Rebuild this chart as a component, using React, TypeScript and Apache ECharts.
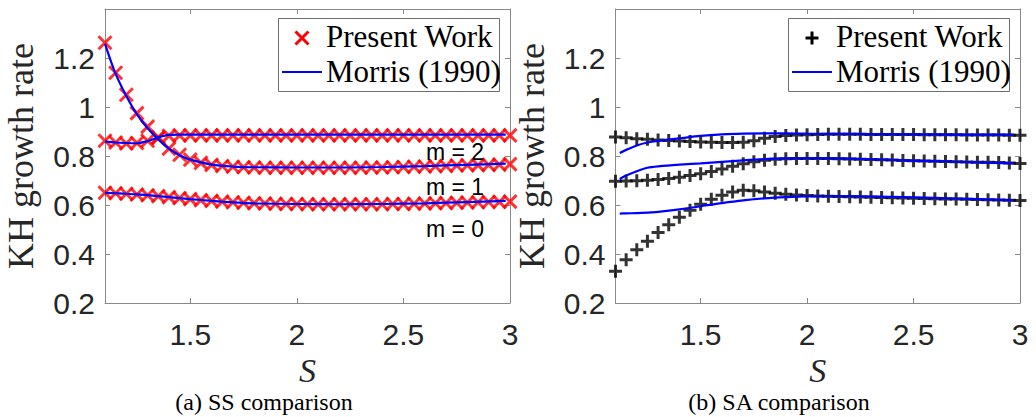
import React, { useEffect, useRef } from "react";
import * as echarts from "echarts";

// ---------- data ----------
const X_TICKS = [1.5, 2, 2.5, 3];
const Y_TICKS = [0.2, 0.4, 0.6, 0.8, 1, 1.2];

const S_PRESENT = [1.1, 1.15, 1.2, 1.25, 1.3, 1.35, 1.4, 1.45, 1.5, 1.55, 1.6, 1.65, 1.7, 1.75, 1.8, 1.85, 1.9, 1.95, 2.0, 2.05, 2.1, 2.15, 2.2, 2.25, 2.3, 2.35, 2.4, 2.45, 2.5, 2.55, 2.6, 2.65, 2.7, 2.75, 2.8, 2.85, 2.9, 2.95, 3.0];

// (a) SS comparison - present work (m = 2, 1, 0)
const ssPresentM2 = [0.862, 0.855, 0.851, 0.853, 0.862, 0.875, 0.882, 0.884, 0.884, 0.884,
  0.884, 0.884, 0.884, 0.884, 0.884, 0.884, 0.884, 0.884, 0.884, 0.884,
  0.884, 0.884, 0.884, 0.884, 0.884, 0.884, 0.884, 0.884, 0.884, 0.884,
  0.884, 0.884, 0.884, 0.884, 0.884, 0.884, 0.884, 0.884, 0.884];
const ssPresentM1 = [1.262, 1.14, 1.05, 0.975, 0.92, 0.875, 0.83, 0.805, 0.785, 0.772,
  0.764, 0.759, 0.756, 0.754, 0.753, 0.752, 0.752, 0.752, 0.752, 0.752,
  0.752, 0.752, 0.752, 0.752, 0.752, 0.753, 0.753, 0.754, 0.755, 0.756,
  0.757, 0.758, 0.759, 0.761, 0.762, 0.763, 0.764, 0.765, 0.767];
const ssPresentM0 = [0.65, 0.648, 0.646, 0.643, 0.64, 0.636, 0.632, 0.628, 0.624, 0.62,
  0.617, 0.614, 0.611, 0.609, 0.607, 0.606, 0.605, 0.604, 0.604, 0.603,
  0.603, 0.603, 0.603, 0.603, 0.603, 0.603, 0.603, 0.604, 0.604, 0.605,
  0.606, 0.607, 0.608, 0.609, 0.61, 0.611, 0.612, 0.613, 0.614];

// (a) SS comparison - Morris (1990)
const S_MORRIS_SS = [1.1, 1.15, 1.2, 1.25, 1.3, 1.35, 1.4, 1.45, 1.5, 1.6, 1.7, 1.8, 2.0, 2.2, 2.4, 2.6, 2.8, 2.98];
const ssMorrisM2 = [0.86, 0.855, 0.853, 0.852, 0.861, 0.876, 0.886, 0.887, 0.887, 0.887, 0.887, 0.887, 0.887, 0.887, 0.887, 0.887, 0.887, 0.887];
const ssMorrisM1 = [1.258, 1.135, 1.045, 0.97, 0.913, 0.868, 0.83, 0.803, 0.785, 0.765, 0.757, 0.754, 0.753, 0.753, 0.755, 0.759, 0.764, 0.769];
const ssMorrisM0 = [0.65, 0.648, 0.646, 0.643, 0.64, 0.636, 0.632, 0.628, 0.624, 0.617, 0.611, 0.607, 0.604, 0.603, 0.604, 0.607, 0.612, 0.617];

// (b) SA comparison - present work
const saPresentTop = [0.878, 0.875, 0.87, 0.868, 0.865, 0.863, 0.861, 0.859, 0.857, 0.856,
  0.855, 0.855, 0.856, 0.862, 0.872, 0.88, 0.884, 0.886, 0.887, 0.888,
  0.889, 0.889, 0.889, 0.889, 0.888, 0.888, 0.888, 0.888, 0.888, 0.887,
  0.887, 0.887, 0.887, 0.886, 0.886, 0.886, 0.886, 0.885, 0.885];
const saPresentMid = [0.697, 0.698, 0.699, 0.701, 0.704, 0.708, 0.713, 0.72, 0.728, 0.737,
  0.747, 0.758, 0.768, 0.777, 0.783, 0.787, 0.789, 0.79, 0.79, 0.79,
  0.79, 0.789, 0.788, 0.787, 0.786, 0.785, 0.784, 0.782, 0.781, 0.78,
  0.779, 0.778, 0.777, 0.776, 0.775, 0.774, 0.773, 0.771, 0.769];
const saPresentBot = [0.33, 0.377, 0.417, 0.452, 0.488, 0.519, 0.55, 0.579, 0.603, 0.623,
  0.64, 0.653, 0.66, 0.658, 0.653, 0.648, 0.644, 0.641, 0.639, 0.637,
  0.636, 0.635, 0.634, 0.633, 0.632, 0.631, 0.63, 0.629, 0.628, 0.627,
  0.626, 0.625, 0.624, 0.623, 0.622, 0.621, 0.62, 0.619, 0.618];

// (b) SA comparison - Morris (1990)
const S_MORRIS_SA = [1.12, 1.15, 1.2, 1.25, 1.3, 1.4, 1.5, 1.6, 1.7, 1.8, 1.9, 2.0, 2.2, 2.4, 2.6, 2.8, 2.97];
const saMorrisTop = [0.812, 0.825, 0.843, 0.855, 0.862, 0.872, 0.882, 0.888, 0.891, 0.892, 0.892, 0.891, 0.89, 0.889, 0.888, 0.887, 0.887];
const saMorrisMid = [0.706, 0.72, 0.738, 0.752, 0.758, 0.765, 0.77, 0.776, 0.782, 0.787, 0.79, 0.791, 0.789, 0.784, 0.779, 0.774, 0.77];
const saMorrisBot = [0.565, 0.566, 0.567, 0.569, 0.572, 0.582, 0.595, 0.608, 0.619, 0.627, 0.632, 0.635, 0.636, 0.633, 0.629, 0.624, 0.619];

const MODE_LABELS = ["m = 2", "m = 1", "m = 0"];
const LEGEND_LABELS = ["Present Work", "Morris (1990)"];
const CAPTIONS = ["(a) SS comparison", "(b) SA comparison"];
const Y_NAME = "KH growth rate";
const X_NAME = "S";

// ---------- styles ----------
const AXIS_COLOR = "#8a8a8a";
const TEXT_COLOR = "#262626";
const SANS = "Liberation Sans, Arial, sans-serif";
const SERIF = "Liberation Serif, Times New Roman, serif";
const CROSS = "path://M0,0L10,10M10,0L0,10";
const PLUS = "path://M5,0L5,10M0,5L10,5";

const zip = (xs: number[], ys: number[]) => xs.map((x, i) => [x, ys[i]]);

function xAxisDef(grid: number, pos: "bottom" | "top") {
  const bottom = pos === "bottom";
  return {
    type: "value",
    gridIndex: grid,
    position: pos,
    min: 1.1,
    max: 3,
    axisLine: { show: true, onZero: false, lineStyle: { color: AXIS_COLOR, width: 1 } },
    axisTick: { show: true, inside: true, length: 5, customValues: X_TICKS, lineStyle: { color: AXIS_COLOR } },
    axisLabel: {
      show: bottom,
      customValues: X_TICKS,
      fontSize: 30,
      fontFamily: SANS,
      color: TEXT_COLOR,
      margin: 16,
    },
    splitLine: { show: false },
    name: bottom ? X_NAME : "",
    nameLocation: "middle",
    nameGap: 48,
    nameTextStyle: { fontFamily: SERIF, fontStyle: "italic", fontSize: 34, color: TEXT_COLOR },
  };
}

function yAxisDef(grid: number, pos: "left" | "right") {
  const left = pos === "left";
  return {
    type: "value",
    gridIndex: grid,
    position: pos,
    min: 0.2,
    max: 1.4,
    axisLine: { show: true, onZero: false, lineStyle: { color: AXIS_COLOR, width: 1 } },
    axisTick: { show: true, inside: true, length: 5, customValues: Y_TICKS, lineStyle: { color: AXIS_COLOR } },
    axisLabel: {
      show: left,
      customValues: Y_TICKS,
      fontSize: 30,
      fontFamily: SANS,
      color: TEXT_COLOR,
      margin: 10,
    },
    splitLine: { show: false },
    name: left ? Y_NAME : "",
    nameLocation: "middle",
    nameRotate: 90,
    nameGap: 66,
    nameTextStyle: { fontFamily: SERIF, fontSize: 36, color: TEXT_COLOR },
  };
}

function scatterSeries(name: string, grid: number, xs: number[], ys: number[], symbol: string, color: string) {
  return {
    name,
    type: "scatter",
    xAxisIndex: grid * 2,
    yAxisIndex: grid * 2,
    data: zip(xs, ys),
    symbol,
    symbolSize: 13,
    itemStyle: { color: "transparent", borderColor: color, borderWidth: 3 },
    z: 2,
  };
}

function lineSeries(name: string, grid: number, xs: number[], ys: number[]) {
  return {
    name,
    type: "line",
    xAxisIndex: grid * 2,
    yAxisIndex: grid * 2,
    data: zip(xs, ys),
    showSymbol: false,
    smooth: 0.3,
    lineStyle: { color: "#0000ff", width: 2.2 },
    z: 3,
  };
}

function legendGraphic(left: number, kind: "cross" | "plus", color: string) {
  const top = 18.5;
  const mx = left + 24;
  const my = 38;
  const h = 6.5;
  const markLines =
    kind === "cross"
      ? [
          [mx - h, my - h, mx + h, my + h],
          [mx + h, my - h, mx - h, my + h],
        ]
      : [
          [mx, my - h, mx, my + h],
          [mx - h, my, mx + h, my],
        ];
  return [
    {
      type: "rect",
      shape: { x: left + 0.5, y: top, width: 221, height: 73 },
      style: { fill: "#ffffff", stroke: "#6e6e6e", lineWidth: 1 },
      z: 100,
    },
    ...markLines.map((l) => ({
      type: "line",
      shape: { x1: l[0], y1: l[1], x2: l[2], y2: l[3] },
      style: { stroke: color, lineWidth: 3 },
      z: 101,
    })),
    {
      type: "text",
      x: left + 48,
      y: 36,
      style: { text: LEGEND_LABELS[0], fontFamily: SERIF, fontSize: 31, fill: "#000", verticalAlign: "middle", align: "left" },
      z: 101,
    },
    {
      type: "line",
      shape: { x1: left + 4, y1: 72, x2: left + 44, y2: 72 },
      style: { stroke: "#0000ff", lineWidth: 2.2 },
      z: 101,
    },
    {
      type: "text",
      x: left + 48,
      y: 71,
      style: { text: LEGEND_LABELS[1], fontFamily: SERIF, fontSize: 31, fill: "#000", verticalAlign: "middle", align: "left" },
      z: 101,
    },
  ];
}

export default function App() {
  const ref = useRef<HTMLDivElement>(null);

  useEffect(() => {
    if (!ref.current) return;
    const chart = echarts.init(ref.current, undefined, { renderer: "svg" });

    const modeY = [152, 187, 229];

    chart.setOption({
      animation: false,
      backgroundColor: "#ffffff",
      textStyle: { fontFamily: SANS },
      grid: [
        { left: 105, top: 9, width: 405, height: 294, containLabel: false },
        { left: 615.5, top: 9, width: 404.5, height: 294, containLabel: false },
      ],
      xAxis: [xAxisDef(0, "bottom"), xAxisDef(0, "top"), xAxisDef(1, "bottom"), xAxisDef(1, "top")],
      yAxis: [yAxisDef(0, "left"), yAxisDef(0, "right"), yAxisDef(1, "left"), yAxisDef(1, "right")],
      series: [
        scatterSeries("Present Work", 0, S_PRESENT, ssPresentM2, CROSS, "#ff0000"),
        scatterSeries("Present Work", 0, S_PRESENT, ssPresentM1, CROSS, "#ff0000"),
        scatterSeries("Present Work", 0, S_PRESENT, ssPresentM0, CROSS, "#ff0000"),
        lineSeries("Morris (1990)", 0, S_MORRIS_SS, ssMorrisM2),
        lineSeries("Morris (1990)", 0, S_MORRIS_SS, ssMorrisM1),
        lineSeries("Morris (1990)", 0, S_MORRIS_SS, ssMorrisM0),
        scatterSeries("Present Work", 1, S_PRESENT, saPresentTop, PLUS, "#000000"),
        scatterSeries("Present Work", 1, S_PRESENT, saPresentMid, PLUS, "#000000"),
        scatterSeries("Present Work", 1, S_PRESENT, saPresentBot, PLUS, "#000000"),
        lineSeries("Morris (1990)", 1, S_MORRIS_SA, saMorrisTop),
        lineSeries("Morris (1990)", 1, S_MORRIS_SA, saMorrisMid),
        lineSeries("Morris (1990)", 1, S_MORRIS_SA, saMorrisBot),
      ],
      graphic: [
        ...legendGraphic(278, "cross", "#ff0000"),
        ...legendGraphic(788, "plus", "#000000"),
        ...MODE_LABELS.map((t, i) => ({
          type: "text",
          x: 426,
          y: modeY[i],
          style: { text: t, fontFamily: SANS, fontSize: 23, fill: "#000", verticalAlign: "middle", align: "left" },
          z: 50,
        })),
        ...CAPTIONS.map((t, i) => ({
          type: "text",
          x: i === 0 ? 264 : 779,
          y: 402,
          style: { text: t, fontFamily: SERIF, fontSize: 24, fill: "#000", verticalAlign: "middle", align: "center" },
          z: 50,
        })),
      ],
    });

    return () => chart.dispose();
  }, []);

  return <div ref={ref} style={{ position: "fixed", left: 0, top: 0, width: 1036, height: 417 }} />;
}
